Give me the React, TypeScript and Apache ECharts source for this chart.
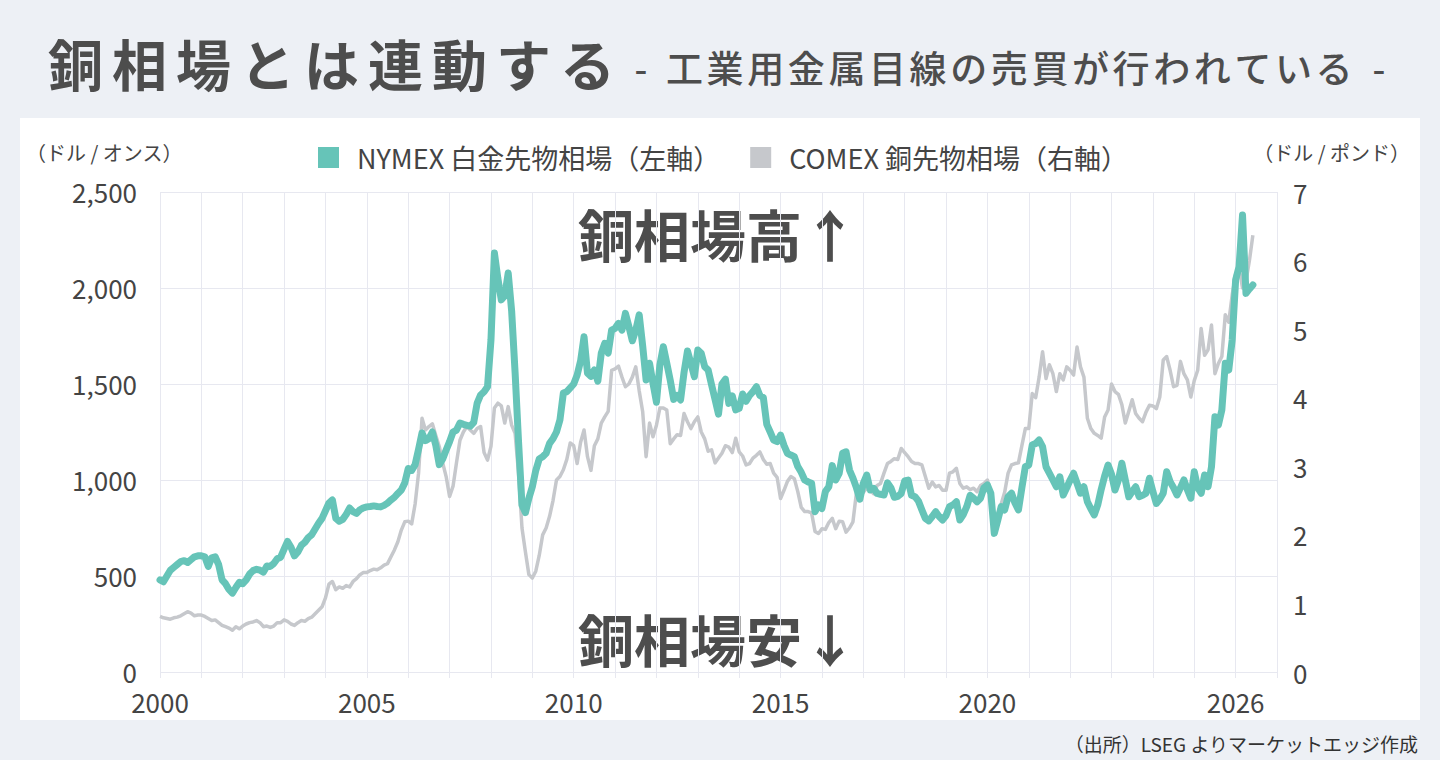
import React, { useEffect, useRef } from "react";
import * as echarts from "echarts";

// ---- data (monthly, Jan 2000 .. Jun 2026) ----
const START_YEAR = 2000;

// NYMEX platinum futures, USD / oz (left axis)
const platinum = [
  480, 470, 500, 530, 545, 560, 575, 580, 570, 585, 600, 605, // 2000
  605, 600, 550, 595, 600, 560, 480, 460, 430, 411, 440, 467, // 2001
  460, 480, 510, 528, 535, 530, 520, 552, 550, 565, 590, 598, // 2002
  640, 680, 650, 605, 625, 660, 675, 700, 715, 745, 775, 800, // 2003
  840, 880, 896, 800, 785, 795, 820, 854, 835, 826, 845, 855, // 2004
  860, 862, 865, 862, 860, 868, 880, 896, 910, 930, 948, 985, // 2005
  1060, 1050, 1080, 1160, 1245, 1205, 1215, 1250, 1180, 1080, 1110, 1156, // 2006
  1200, 1250, 1260, 1297, 1290, 1285, 1280, 1300, 1401, 1443, 1460, 1486, // 2007
  1729, 2182, 2050, 1938, 1960, 2078, 1880, 1560, 1200, 870, 830, 905, // 2008
  965, 1050, 1110, 1121, 1139, 1191, 1215, 1250, 1312, 1453, 1460, 1480, // 2009
  1500, 1547, 1620, 1746, 1556, 1540, 1573, 1515, 1661, 1712, 1661, 1781, // 2010
  1790, 1816, 1781, 1868, 1800, 1725, 1780, 1860, 1700, 1521, 1608, 1503, // 2011
  1405, 1600, 1694, 1608, 1520, 1420, 1440, 1417, 1560, 1672, 1608, 1538, // 2012
  1677, 1660, 1590, 1573, 1495, 1420, 1343, 1500, 1525, 1399, 1438, 1365, // 2013
  1373, 1448, 1410, 1440, 1460, 1486, 1440, 1430, 1290, 1250, 1208, 1200, // 2014
  1234, 1180, 1139, 1130, 1122, 1070, 1040, 1000, 990, 983, 835, 870, // 2015
  852, 940, 965, 1075, 1000, 1035, 1139, 1147, 1052, 1010, 960, 900, // 2016
  983, 1026, 948, 957, 930, 925, 922, 985, 960, 910, 915, 930, // 2017
  995, 1000, 920, 913, 890, 844, 800, 787, 810, 835, 810, 792, // 2018
  815, 861, 870, 887, 792, 820, 861, 920, 905, 887, 905, 960, // 2019
  974, 930, 722, 790, 861, 844, 913, 931, 880, 844, 960, 1069, // 2020
  1078, 1182, 1190, 1208, 1174, 1069, 1035, 1000, 965, 1017, 922, 960, // 2021
  1000, 1035, 983, 931, 965, 887, 850, 818, 870, 950, 1020, 1078, // 2022
  1030, 948, 1000, 1087, 1000, 913, 940, 965, 913, 920, 931, 1009, // 2023
  940, 878, 900, 931, 1043, 991, 960, 922, 960, 1000, 950, 905, // 2024
  1043, 960, 931, 1026, 965, 1069, 1330, 1286, 1365, 1608, 1573, 1729, // 2025
  2042, 2111, 2380, 1972, 1995, 2016, // 2026
];

// COMEX copper futures, USD / lb (right axis)
const copper = [
  0.81, 0.79, 0.78, 0.77, 0.79, 0.8, 0.82, 0.85, 0.88, 0.86, 0.82, 0.83, // 2000
  0.83, 0.81, 0.78, 0.75, 0.76, 0.72, 0.68, 0.66, 0.64, 0.61, 0.66, 0.63, // 2001
  0.67, 0.7, 0.72, 0.73, 0.75, 0.72, 0.66, 0.67, 0.65, 0.67, 0.72, 0.72, // 2002
  0.76, 0.74, 0.7, 0.68, 0.72, 0.75, 0.74, 0.78, 0.8, 0.85, 0.9, 0.95, // 2003
  1.08, 1.28, 1.32, 1.2, 1.24, 1.22, 1.26, 1.24, 1.32, 1.36, 1.42, 1.45, // 2004
  1.45, 1.48, 1.5, 1.49, 1.52, 1.56, 1.58, 1.68, 1.78, 1.9, 2.07, 2.19, // 2005
  2.2, 2.16, 2.45, 2.9, 3.7, 3.53, 3.58, 3.62, 3.45, 3.29, 3.05, 2.85, // 2006
  2.56, 2.71, 3.05, 3.38, 3.5, 3.58, 3.53, 3.48, 3.55, 3.58, 3.2, 3.09, // 2007
  3.29, 3.85, 3.92, 3.88, 3.63, 3.87, 3.6, 3.48, 2.9, 2.1, 1.75, 1.42, // 2008
  1.37, 1.47, 1.7, 2.0, 2.1, 2.27, 2.5, 2.8, 2.85, 2.95, 3.1, 3.34, // 2009
  3.3, 3.04, 3.35, 3.53, 3.14, 2.94, 3.3, 3.4, 3.63, 3.72, 3.8, 4.4, // 2010
  4.42, 4.46, 4.3, 4.16, 4.2, 4.3, 4.45, 4.1, 3.8, 3.14, 3.63, 3.43, // 2011
  3.6, 3.85, 3.85, 3.82, 3.33, 3.4, 3.46, 3.45, 3.77, 3.65, 3.55, 3.65, // 2012
  3.72, 3.5, 3.4, 3.22, 3.24, 3.05, 3.12, 3.19, 3.3, 3.28, 3.2, 3.41, // 2013
  3.21, 3.15, 3.02, 3.04, 3.12, 3.16, 3.21, 3.1, 3.03, 3.04, 2.9, 2.84, // 2014
  2.53, 2.65, 2.78, 2.85, 2.82, 2.63, 2.4, 2.34, 2.34, 2.32, 2.05, 2.02, // 2015
  2.09, 2.08, 2.18, 2.24, 2.09, 2.2, 2.19, 2.04, 2.1, 2.19, 2.61, 2.63, // 2016
  2.62, 2.68, 2.65, 2.6, 2.72, 2.75, 2.9, 3.04, 3.07, 3.11, 3.1, 3.26, // 2017
  3.2, 3.14, 3.07, 3.04, 3.04, 3.02, 2.85, 2.68, 2.77, 2.7, 2.72, 2.65, // 2018
  2.65, 2.9, 2.92, 2.97, 2.75, 2.68, 2.7, 2.66, 2.68, 2.63, 2.72, 2.75, // 2019
  2.8, 2.62, 2.25, 2.3, 2.45, 2.62, 2.9, 3.02, 3.04, 3.05, 3.3, 3.55, // 2020
  3.55, 4.06, 4.0, 4.3, 4.67, 4.28, 4.48, 4.35, 4.09, 4.35, 4.26, 4.45, // 2021
  4.4, 4.33, 4.74, 4.45, 4.3, 3.7, 3.55, 3.48, 3.45, 3.41, 3.72, 3.82, // 2022
  4.2, 4.09, 4.05, 3.9, 3.63, 3.8, 3.97, 3.77, 3.7, 3.65, 3.79, 3.89, // 2023
  3.88, 3.84, 4.01, 4.55, 4.6, 4.4, 4.16, 4.18, 4.53, 4.35, 4.26, 4.01, // 2024
  4.25, 4.4, 5.01, 4.62, 4.7, 5.06, 4.35, 4.5, 4.6, 5.21, 5.1, 5.5, // 2025
  5.8, 5.9, 5.6, 5.7, 6.0, 6.37, // 2026
];

const xLabelYears = [2000, 2005, 2010, 2015, 2020, 2026];
const seriesNames = ["NYMEX 白金先物相場（左軸）", "COMEX 銅先物相場（右軸）"];
const titleMain = "銅相場とは連動する";
const titleSub = "工業用金属目線の売買が行われている";
const leftUnit = "（ドル / オンス）";
const rightUnit = "（ドル / ポンド）";
const noteHigh = "銅相場高↑";
const noteLow = "銅相場安↓";
const source = "（出所）LSEG よりマーケットエッジ作成";

const FONT = "'Noto Sans CJK JP', 'Noto Sans', sans-serif";
const TEAL = "#66C4B8";
const GREY = "#C6C8CC";
const GRID = "#E7E8F0";
const TEXT = "#444444";
const TITLE = "#4D4D4D";

const toPairs = (vals: number[]) => vals.map((v, i) => [START_YEAR + i / 12, v]);

function charRow(str: string, x0: number, pitch: number, y: number, size: number, weight: string | number) {
  return str.split("").map((ch, i) => ({
    type: "text",
    x: x0 + i * pitch,
    y,
    silent: true,
    style: {
      text: ch,
      fill: TITLE,
      fontSize: size,
      fontWeight: weight,
      fontFamily: FONT,
      textAlign: "left",
      textVerticalAlign: "middle",
    },
  }));
}

export default function App() {
  const ref = useRef<HTMLDivElement>(null);

  useEffect(() => {
    if (!ref.current) return;
    const chart = echarts.init(ref.current, undefined, { renderer: "svg" });

    const txt = (text: string, x: number, y: number, size: number, opts: any = {}) => ({
      type: "text",
      x,
      y,
      silent: true,
      style: {
        text,
        fill: opts.fill || TEXT,
        fontSize: size,
        fontWeight: opts.weight || "normal",
        fontFamily: FONT,
        textAlign: opts.align || "left",
        textVerticalAlign: "middle",
      },
    });

    const option: any = {
      animation: false,
      backgroundColor: "#EDF0F5",
      textStyle: { fontFamily: FONT },
      graphic: [
        {
          type: "rect",
          z: -10,
          silent: true,
          shape: { x: 20, y: 118, width: 1400, height: 602 },
          style: { fill: "#FFFFFF" },
        },
        ...charRow(titleMain, 48, 64, 62, 55, "bold"),
        txt("-", 641, 67, 36, { fill: TITLE, align: "center", weight: 500 }),
        ...charRow(titleSub, 666, 40.6, 67, 37, 500),
        txt("-", 1379, 67, 36, { fill: TITLE, align: "center", weight: 500 }),
        txt(leftUnit, 26, 152, 20),
        txt(rightUnit, 1410, 152, 20, { align: "right" }),
        txt(noteHigh, 578, 232, 56, { weight: "bold", fill: TITLE }),
        txt(noteLow, 578, 637, 56, { weight: "bold", fill: TITLE }),
        txt(source, 1418, 743, 19, { align: "right", fill: "#333" }),
      ],
      legend: {
        left: 313,
        top: 139,
        itemWidth: 21,
        itemHeight: 21,
        itemGap: 30,
        icon: "rect",
        selectedMode: false,
        data: seriesNames,
        textStyle: { fontSize: 27, color: TEXT, fontFamily: FONT, padding: [0, 0, 0, 13] },
      },
      grid: { left: 160, right: 163, top: 192, bottom: 88, containLabel: false },
      xAxis: {
        type: "value",
        min: 2000,
        max: 2027,
        interval: 1,
        axisLine: { show: false },
        axisTick: { show: true, length: 6, lineStyle: { color: GRID } },
        splitLine: { show: true, lineStyle: { color: GRID, width: 1 } },
        axisLabel: {
          margin: 16,
          fontSize: 26,
          color: TEXT,
          fontFamily: FONT,
          formatter: (v: number) => (xLabelYears.includes(Math.round(v)) ? String(Math.round(v)) : ""),
        },
      },
      yAxis: [
        {
          type: "value",
          min: 0,
          max: 2500,
          interval: 500,
          axisLine: { show: false },
          axisTick: { show: false },
          splitLine: { show: true, lineStyle: { color: GRID, width: 1 } },
          axisLabel: {
            margin: 23,
            fontSize: 26,
            color: TEXT,
            fontFamily: FONT,
            verticalAlign: "bottom",
            lineHeight: 26,
            padding: [0, 0, -12, 0],
            formatter: (v: number) => v.toLocaleString("en-US"),
          },
        },
        {
          type: "value",
          min: 0,
          max: 7,
          interval: 1,
          position: "right",
          axisLine: { show: false },
          axisTick: { show: false },
          splitLine: { show: false },
          axisLabel: { margin: 16, fontSize: 26, color: TEXT, fontFamily: FONT },
        },
      ],
      series: [
        {
          name: seriesNames[1],
          type: "line",
          yAxisIndex: 1,
          data: toPairs(copper),
          showSymbol: false,
          symbol: "none",
          color: GREY,
          lineStyle: { color: GREY, width: 3.5, join: "round" },
          z: 2,
        },
        {
          name: seriesNames[0],
          type: "line",
          yAxisIndex: 0,
          data: toPairs(platinum),
          showSymbol: false,
          symbol: "none",
          color: TEAL,
          lineStyle: { color: TEAL, width: 7, join: "round", cap: "round" },
          z: 3,
        },
      ],
    };

    chart.setOption(option);
    return () => chart.dispose();
  }, []);

  return (
    <div
      ref={ref}
      style={{ position: "fixed", left: 0, top: 0, width: 1440, height: 760 }}
    />
  );
}
